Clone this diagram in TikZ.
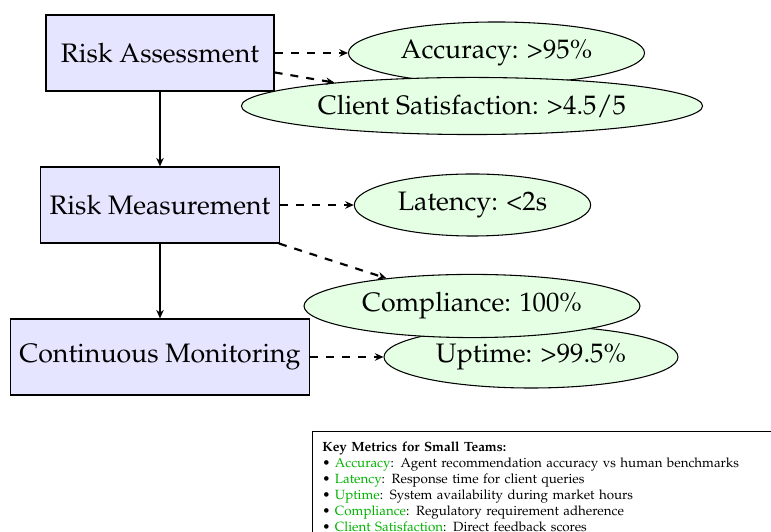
\documentclass[tikz,border=0pt]{standalone}
\usepackage[T1]{fontenc}
\usepackage{mathpazo}
\usetikzlibrary{arrows.meta,shapes.geometric}
\begin{document}
\begin{tikzpicture}[x=0.3743pt,y=-0.3743pt,
  box/.style={draw, fill=blue!10, minimum width=3cm, minimum height=1cm, font=\normalsize},
  metric/.style={draw, ellipse, fill=green!10, font=\normalsize},
  flow/.style={thick, -{Stealth[length=3.2pt,width=2.8pt]}},
  link/.style={flow, dashed},
  legendbox/.style={draw, fill=white, text width=6cm, align=left, font=\tiny, inner sep=3.7pt, anchor=north west}]
\useasboundingbox (0,0) rectangle (771,532);
% process boxes
\node[box] (ra) at (160,53) {Risk Assessment};
\node[box] (rm) at (160,205) {Risk Measurement};
\node[box] (cm) at (160,357) {Continuous Monitoring};
% metric ellipses
\node[metric] (acc) at (496.5,53) {Accuracy: >95\%};
\node[metric] (lat) at (472.5,205) {Latency: <2s};
\node[metric] (up) at (531,357) {Uptime: >99.5\%};
\node[metric] (cs) at (472,106) {Client Satisfaction: >4.5/5};
\node[metric] (comp) at (472,306) {Compliance: 100\%};
% connectors
\draw[flow] (ra) -- (rm);
\draw[flow] (rm) -- (cm);
\draw[link] (ra) -- (acc);
\draw[link] (ra) -- (cs);
\draw[link] (rm) -- (lat);
\draw[link] (rm) -- (comp);
\draw[link] (cm) -- (up);
% legend
\node[legendbox] (legend) at (312,431) {\textbf{Key Metrics for Small Teams:}\\
\textbullet\ \textcolor{green!70!black}{Accuracy}: Agent recommendation accuracy vs human benchmarks\\
\textbullet\ \textcolor{green!70!black}{Latency}: Response time for client queries\\
\textbullet\ \textcolor{green!70!black}{Uptime}: System availability during market hours\\
\textbullet\ \textcolor{green!70!black}{Compliance}: Regulatory requirement adherence\\
\textbullet\ \textcolor{green!70!black}{Client Satisfaction}: Direct feedback scores};
\end{tikzpicture}
\end{document}
